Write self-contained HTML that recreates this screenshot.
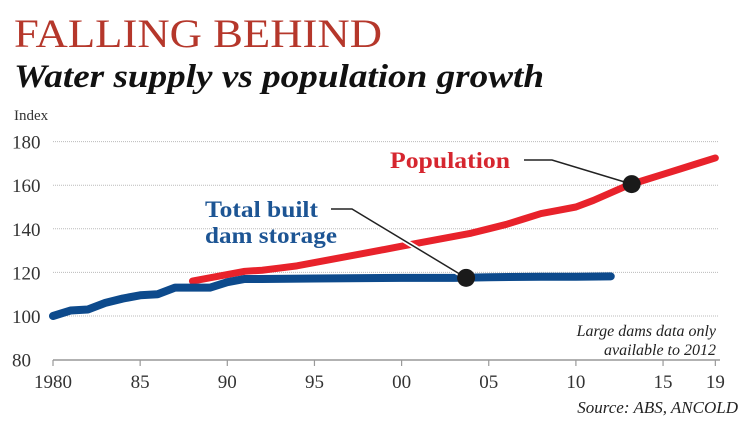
<!DOCTYPE html>
<html><head><meta charset="utf-8"><style>
body{margin:0;background:#fff;width:754px;height:434px;overflow:hidden;font-family:"Liberation Serif",serif}
svg{position:absolute;left:0;top:0}
</style></head><body>
<svg width="754" height="434">
<text x="14" y="47" font-size="40" fill="#b5372b" textLength="368" lengthAdjust="spacingAndGlyphs">FALLING BEHIND</text>
<text x="14" y="87" font-size="33" font-weight="bold" font-style="italic" fill="#111" textLength="530" lengthAdjust="spacingAndGlyphs">Water supply vs population growth</text>
<text x="14" y="120" font-size="15" fill="#333">Index</text>
<g id="grid"></g>
<g id="xaxis"></g>
<g id="lines"></g>
<text x="390" y="168" font-size="23" font-weight="bold" fill="#d6262f" textLength="120" lengthAdjust="spacingAndGlyphs">Population</text>
<text x="205" y="217" font-size="23" font-weight="bold" fill="#1d5594" textLength="113" lengthAdjust="spacingAndGlyphs">Total built</text>
<text x="205" y="243" font-size="23" font-weight="bold" fill="#1d5594" textLength="132" lengthAdjust="spacingAndGlyphs">dam storage</text>
<text x="716" y="336" font-size="16" font-style="italic" fill="#222" text-anchor="end">Large dams data only</text>
<text x="716" y="355" font-size="16" font-style="italic" fill="#222" text-anchor="end">available to 2012</text>
<text x="738" y="413" font-size="17" font-style="italic" fill="#222" text-anchor="end">Source: ABS, ANCOLD</text>
</svg>
<script>
const yTicks=[80,100,120,140,160,180];
const xTickYears=[1980,1985,1990,1995,2000,2005,2010,2015,2018];
const xTickLabels=["1980","85","90","95","00","05","10","15","19"];
const popYears=[1988,1989,1990,1991,1992,1993,1994,1995,1996,1997,1998,1999,2000,2001,2002,2003,2004,2005,2006,2007,2008,2009,2010,2011,2012,2013,2014,2015,2016,2017,2018];
const popValues=[116,117.5,119,120.5,121,122,123,124.5,126,127.5,129,130.5,132,133.5,135,136.5,138,140,142,144.5,147,148.5,150,153,156.5,160,162.5,165,167.5,170,172.5];
const damYears=[1980,1981,1982,1983,1984,1985,1986,1987,1988,1989,1990,1991,1992,1995,2000,2003,2005,2008,2010,2012];
const damValues=[100,102.5,103,106,108,109.5,110,113,113,113,115.5,117,117,117.2,117.5,117.5,117.8,118,118,118.2];
const popDot=[2013.2,160.5];
const damDot=[2003.7,117.5];
const NS="http://www.w3.org/2000/svg";
const X=y=>53+(y-1980)*17.43;
const Y=v=>316-(v-100)*2.18;
function mk(t,a,p){const e=document.createElementNS(NS,t);for(const k in a)e.setAttribute(k,a[k]);p.appendChild(e);return e;}
const grid=document.getElementById('grid'),xa=document.getElementById('xaxis'),ln=document.getElementById('lines');
yTicks.forEach(v=>{
 if(v>80){const l=mk('line',{x1:53,x2:718,y1:Y(v),y2:Y(v),stroke:'#bbb','stroke-width':1,'stroke-dasharray':'1 1'},grid);
 
 }
 const t=mk('text',{x:12,y:Y(v)+7,'font-size':19,fill:'#333'},grid);t.textContent=v;
 
 
});
const ax=mk('line',{x1:53,x2:720,y1:360,y2:360,stroke:'#999','stroke-width':1.5},xa);


xTickYears.forEach((yr,i)=>{
 mk('line',{x1:X(yr),x2:X(yr),y1:360,y2:366,stroke:'#999','stroke-width':1.2},xa);
 const t=mk('text',{x:X(yr),y:388,'font-size':19,fill:'#333','text-anchor':'middle'},xa);t.textContent=xTickLabels[i];
 
 
});
const pts=(ys,vs)=>ys.map((y,i)=>X(y)+','+Y(vs[i])).join(' ');
const pop=mk('polyline',{points:pts(popYears,popValues),fill:'none',stroke:'#e8222b','stroke-width':7,'stroke-linecap':'round','stroke-linejoin':'round'},ln);


const dam=mk('polyline',{points:pts(damYears,damValues),fill:'none',stroke:'#0d4a8c','stroke-width':8,'stroke-linecap':'round','stroke-linejoin':'round'},ln);


function leader(x0,y0,xb,dot,name){
 const p=`${x0},${y0} ${xb},${y0} ${X(dot[0])},${Y(dot[1])}`;
 mk('polyline',{points:p,fill:'none',stroke:'#fff','stroke-width':5},ln);
 const l=mk('polyline',{points:p,fill:'none',stroke:'#222','stroke-width':1.5},ln);
 
 
 const c=mk('circle',{cx:X(dot[0]),cy:Y(dot[1]),r:9,fill:'#1a1a1a'},ln);
 
 
}
leader(331,209,352,damDot,'dam-storage');
leader(524,160,552,popDot,'population');
</script>
</body></html>
